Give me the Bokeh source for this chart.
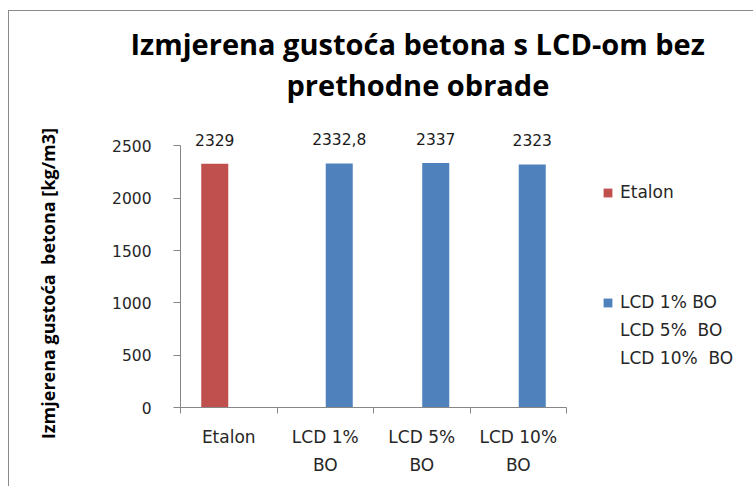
from bokeh.plotting import figure
from bokeh.models import (Range1d, FixedTicker, Legend, LegendItem, Title,
                          ColumnDataSource)
from bokeh.embed import file_html
from bokeh.resources import INLINE
from bokeh.core.properties import value

# ---- data ----
categories = ["Etalon", "LCD 1%\nBO", "LCD 5%\nBO", "LCD 10%\nBO"]
density = [2329, 2332.8, 2337, 2323]
value_labels = ["2329", "2332,8", "2337", "2323"]
series_of_category = ["Etalon", "LCD", "LCD", "LCD"]
legend_etalon = "Etalon"
legend_lcd = ["LCD 1% BO", "LCD 5%  BO", "LCD 10%  BO"]
y_ticks = [0, 500, 1000, 1500, 2000, 2500]
title_lines = ["Izmjerena gustoća betona s LCD-om bez", "prethodne obrade"]
y_label = "Izmjerena gustoća \u00a0betona [kg/m3]"

RED = "#C0504D"
BLUE = "#4F81BD"
AXIS = "#868686"
TXT = "#262626"
FONT = "DejaVu Sans"

W, H = 745, 476
x_per_cat = 96.5
left = 171

p = figure(width=W, height=H, output_backend="svg", toolbar_location=None,
           x_range=Range1d(0, (W - left) / x_per_cat), y_range=Range1d(0, 2905),
           min_border_left=left, min_border_right=0, min_border_top=92,
           min_border_bottom=80)
p.styles = {"border-left": "1px solid #8a8a8a", "border-top": "1px solid #8a8a8a",
            "margin-left": "8px", "margin-top": "10px"}
p.outline_line_color = None
p.xgrid.visible = False
p.ygrid.visible = False
p.background_fill_color = "white"
p.border_fill_color = "white"

n = len(categories)
centers = [i + 0.5 for i in range(n)]
offset = {"Etalon": -0.145, "LCD": 0.145}
xs = [c + offset[s] for c, s in zip(centers, series_of_category)]

src_e = ColumnDataSource(dict(x=[x for x, s in zip(xs, series_of_category) if s == "Etalon"],
                              top=[v for v, s in zip(density, series_of_category) if s == "Etalon"]))
src_l = ColumnDataSource(dict(x=[x for x, s in zip(xs, series_of_category) if s == "LCD"],
                              top=[v for v, s in zip(density, series_of_category) if s == "LCD"]))
r_e = p.vbar(x="x", top="top", width=0.28, source=src_e, fill_color=RED, line_color=None)
r_l = p.vbar(x="x", top="top", width=0.28, source=src_l, fill_color=BLUE, line_color=None)
r_blank = p.vbar(x=[], top=[], width=0.28, fill_alpha=0, line_alpha=0)

lab_src = ColumnDataSource(dict(x=xs, y=density, t=value_labels))
p.text(x="x", y="y", text="t", source=lab_src, text_align="center",
       text_baseline="bottom", y_offset=-18, text_font=value(FONT),
       text_font_size="15.5px", text_color="#1a1a1a")

# axes
xa = p.xaxis[0]
xa.bounds = (0, n)
xa.ticker = FixedTicker(ticks=centers, minor_ticks=list(range(n + 1)))
xa.major_label_overrides = {c: lab for c, lab in zip(centers, categories)}
xa.major_tick_out = 0
xa.major_tick_in = 0
xa.minor_tick_out = 6
xa.minor_tick_in = 0
xa.minor_tick_line_color = AXIS
xa.axis_line_color = AXIS
xa.major_label_text_font = FONT
xa.major_label_text_font_size = "17px"
xa.major_label_text_color = TXT
xa.major_label_text_line_height = 1.4
xa.major_label_standoff = 13

ya = p.yaxis[0]
ya.bounds = (0, 2500)
ya.ticker = FixedTicker(ticks=y_ticks)
ya.minor_tick_line_color = None
ya.major_tick_out = 7
ya.major_tick_in = 0
ya.major_tick_line_color = AXIS
ya.axis_line_color = AXIS
ya.major_label_text_font = FONT
ya.major_label_text_font_size = "15.5px"
ya.major_label_text_color = TXT
ya.major_label_standoff = 22
# trailing no-break spaces centre the visible label on the 0-2500 axis span
ya.axis_label = y_label + "\u00a0" * 12
ya.axis_label_text_font = "Open Sans"
ya.axis_label_text_font_style = "bold"
ya.axis_label_text_font_size = "18px"
ya.axis_label_text_color = "black"
ya.axis_label_standoff = 49

# titles
TFONT = "Open Sans"
p.add_layout(Title(text=title_lines[1], align="left", offset=106,
                   text_font=TFONT, text_font_style="bold",
                   text_font_size="29px", text_color="black", standoff=0), "above")
p.add_layout(Title(text=title_lines[0], align="left", offset=-50,
                   text_font=TFONT, text_font_style="bold",
                   text_font_size="29px", text_color="black", standoff=0), "above")

# legends
leg_common = dict(border_line_color=None, background_fill_alpha=0, padding=0,
                  margin=0, glyph_width=11, glyph_height=11, label_standoff=7,
                  spacing=8, label_height=20, label_text_font=FONT,
                  label_text_font_size="17px", label_text_color=TXT)
leg1 = Legend(items=[LegendItem(label=legend_etalon, renderers=[r_e])],
              location=(422, 205), **leg_common)
leg2 = Legend(items=[LegendItem(label=legend_lcd[0], renderers=[r_l]),
                     LegendItem(label=legend_lcd[1], renderers=[r_blank]),
                     LegendItem(label=legend_lcd[2], renderers=[r_blank])],
              location=(422, 39), **leg_common)
p.add_layout(leg1, "center")
p.add_layout(leg2, "center")

open("out.html", "w").write(file_html(p, INLINE))
